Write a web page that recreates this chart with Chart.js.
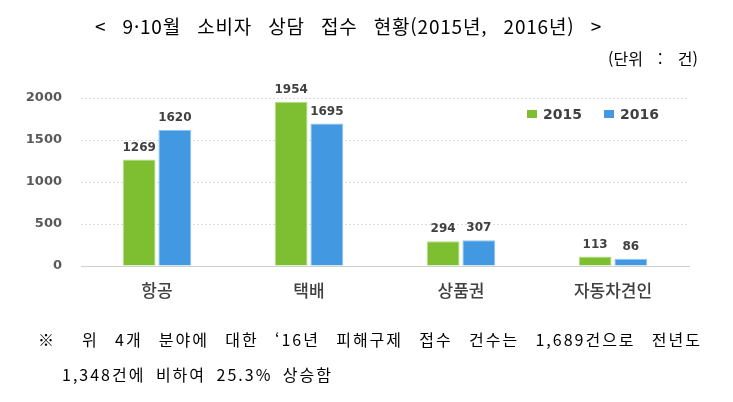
<!DOCTYPE html>
<html lang="ko">
<head>
    <meta charset="UTF-8">
    <title>9·10월 소비자 상담 접수 현황</title>
    <script src="https://cdn.jsdelivr.net/npm/chart.js"></script>
    <style>
        body {
            margin: 0;
            padding: 0;
            background: #ffffff;
            width: 733px;
            height: 402px;
            overflow: hidden;
            position: relative;
            font-family: "Noto Sans CJK KR", sans-serif;
            color: #000;
        }
        .chart-box {
            position: absolute;
            left: 0;
            top: 0;
            width: 733px;
            height: 402px;
        }
        .txt {
            position: absolute;
            white-space: nowrap;
            line-height: 1;
        }
        #title {
            left: 95px;
            top: 16px;
            font-size: 19px;
            letter-spacing: 0.8px;
            width: 507px;
            text-align: justify;
            text-align-last: justify;
        }
        #unit {
            left: 608px;
            top: 50px;
            font-size: 16px;
            width: 90px;
            text-align: justify;
            text-align-last: justify;
        }
        #note1 {
            left: 38px;
            top: 331px;
            font-size: 16px;
            letter-spacing: 2px;
            width: 664px;
            text-align: justify;
            text-align-last: justify;
        }
        #note2 {
            left: 62px;
            top: 366px;
            font-size: 16px;
            letter-spacing: 2px;
            width: 271px;
            text-align: justify;
            text-align-last: justify;
        }
    </style>
</head>
<body>
    <div class="chart-box"><canvas id="consultChart" width="733" height="402"></canvas></div>

    <div class="txt" id="title">&lt; 9·10월 소비자 상담 접수 현황(2015년, 2016년) &gt;</div>
    <div class="txt" id="unit">(단위 : 건)</div>
    <div class="txt" id="note1">※ 위 4개 분야에 대한 ‘16년 피해구제 접수 건수는 1,689건으로 전년도</div>
    <div class="txt" id="note2">1,348건에 비하여 25.3% 상승함</div>

    <script>
        // chart data
        const categories = ['항공', '택배', '상품권', '자동차견인'];
        const values2015 = [1269, 1954, 294, 113];
        const values2016 = [1620, 1695, 307, 86];
        const seriesNames = ['2015', '2016'];
        const yTicks = [0, 500, 1000, 1500, 2000];

        const green = '#7dbf31';
        const blue = '#4299e2';

        // value labels above each bar
        const valueLabels = {
            id: 'valueLabels',
            afterDatasetsDraw(chart) {
                const ctx = chart.ctx;
                ctx.save();
                ctx.font = 'bold 12px "DejaVu Sans"';
                ctx.fillStyle = '#404040';
                ctx.textAlign = 'center';
                ctx.textBaseline = 'bottom';
                chart.data.datasets.forEach((ds, i) => {
                    chart.getDatasetMeta(i).data.forEach((bar, j) => {
                        ctx.fillText(ds.data[j], bar.x, bar.y - 6);
                    });
                });
                ctx.restore();
            }
        };

        // legend drawn inside the plot, top right
        const innerLegend = {
            id: 'innerLegend',
            afterDraw(chart) {
                const ctx = chart.ctx;
                const xs = [527, 604];
                const y = 114;
                ctx.save();
                ctx.font = 'bold 14px "DejaVu Sans"';
                ctx.textBaseline = 'middle';
                ctx.textAlign = 'left';
                chart.data.datasets.forEach((ds, i) => {
                    ctx.fillStyle = ds.backgroundColor;
                    ctx.fillRect(xs[i], y - 4, 10, 8);
                    ctx.fillStyle = '#404040';
                    ctx.fillText(ds.label, xs[i] + 16, y + 1);
                });
                ctx.restore();
            }
        };

        const ctx = document.getElementById('consultChart').getContext('2d');
        new Chart(ctx, {
            type: 'bar',
            data: {
                labels: categories,
                datasets: [
                    {
                        label: seriesNames[0],
                        data: values2015,
                        backgroundColor: green,
                        borderColor: '#b9e08a',
                        borderWidth: 1,
                        categoryPercentage: 0.47,
                        barPercentage: 0.92
                    },
                    {
                        label: seriesNames[1],
                        data: values2016,
                        backgroundColor: blue,
                        borderColor: '#8fc3ef',
                        borderWidth: 1,
                        categoryPercentage: 0.47,
                        barPercentage: 0.92
                    }
                ]
            },
            options: {
                responsive: false,
                animation: false,
                layout: {
                    padding: { top: 98, right: 44, bottom: 86, left: 0 }
                },
                plugins: {
                    legend: { display: false },
                    title: { display: false },
                    tooltip: { enabled: false }
                },
                scales: {
                    x: {
                        grid: { display: false },
                        border: { display: true, color: '#d0d0d0', width: 1 },
                        ticks: {
                            padding: 6,
                            color: '#404040',
                            font: { family: '"Noto Sans CJK KR"', size: 17, weight: '500' }
                        },
                        afterFit(scale) { scale.height = 50; }
                    },
                    y: {
                        min: 0,
                        max: 2000,
                        afterBuildTicks(scale) {
                            scale.ticks = yTicks.map(v => ({ value: v }));
                        },
                        grid: {
                            drawTicks: false,
                            color: '#dcdcdc',
                            lineWidth: 1
                        },
                        border: { display: false, dash: [2, 2] },
                        ticks: {
                            padding: 19,
                            color: '#595959',
                            font: { family: '"DejaVu Sans"', size: 13, weight: 'bold' },
                            callback: v => String(v)
                        },
                        afterFit(scale) { scale.width = 81; }
                    }
                }
            },
            plugins: [valueLabels, innerLegend]
        });
    </script>
</body>
</html>
